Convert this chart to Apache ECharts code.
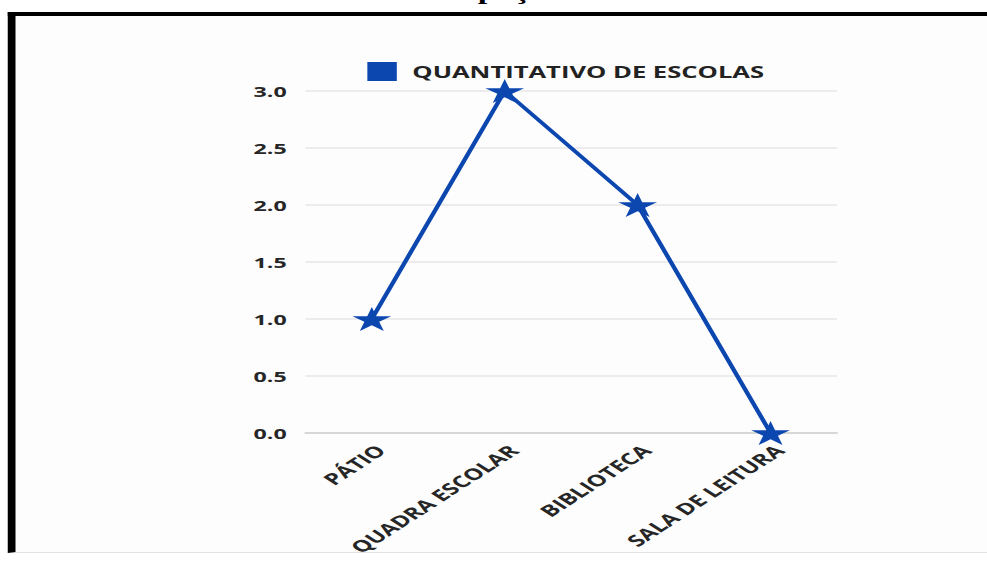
<!DOCTYPE html>
<html>
<head>
<meta charset="utf-8">
<script src="https://cdn.jsdelivr.net/npm/echarts@6/dist/echarts.min.js"></script>
<style>
  html, body { margin: 0; padding: 0; background: #ffffff; overflow: hidden; }
  body { width: 987px; height: 567px; position: relative; }
  /* The whole figure is drawn narrow and stretched horizontally */
  #wrap {
    position: absolute; left: 0; top: 0;
    width: 637px; height: 567px;
    transform: scaleX(1.55); transform-origin: 0 0;
  }
  #frame {
    position: absolute; left: 4.5px; top: 11.5px; right: -60px; bottom: 14px;
    border-left: 5px solid #000; border-top: 4px solid #000;
    border-bottom: 1px solid #e2e2e2;
    background: #fdfdfd;
  }
  #chart { position: absolute; left: 0; top: 0; width: 637px; height: 567px; }
</style>
</head>
<body>
<div id="wrap">
  <div id="frame"></div>
  <div id="chart"></div>
</div>
<script>
// Tipos de espaço e quantidade de escolas que dispõem de cada um
const categories = ['PÁTIO', 'QUADRA ESCOLAR', 'BIBLIOTECA', 'SALA DE LEITURA'];
const escolas = [1, 3, 2, 0];
const seriesName = 'QUANTITATIVO DE ESCOLAS';
const yMin = 0, yMax = 3, yStep = 0.5;

const blue = '#0c47b0';
const labelFont = '"Open Sans", "DejaVu Sans", sans-serif';
// five-pointed star marker
const starPath = 'path://M50,0 L61.2,34.5 L97.6,34.5 L68.2,55.9 L79.4,90.5 L50,69.1 L20.6,90.5 L31.8,55.9 L2.4,34.5 L38.8,34.5 Z';

const chart = echarts.init(document.getElementById('chart'), null, { renderer: 'svg' });

chart.setOption({
  backgroundColor: 'transparent',
  animation: false,
  graphic: [{
    type: 'text',
    left: 285, top: -20,
    style: {
      text: 'Espaço',
      font: 'bold 22px "Liberation Serif", "DejaVu Serif", serif',
      fill: '#000'
    }
  }],
  legend: {
    data: [seriesName],
    left: 232, top: 57,
    icon: 'rect',
    itemWidth: 19, itemHeight: 19,
    textStyle: {
      fontFamily: labelFont, fontWeight: 'bold', fontSize: 16.5,
      color: '#222', padding: [0, 0, 0, 5]
    }
  },
  grid: { left: 197, right: 97, top: 91, bottom: 134, containLabel: false },
  xAxis: {
    type: 'category',
    data: categories,
    boundaryGap: true,
    axisTick: { show: false },
    axisLine: { show: true, lineStyle: { color: '#cfcfcf', width: 1.5 } },
    axisLabel: {
      rotate: 45, margin: 9, interval: 0,
      verticalAlign: 'top',
      fontFamily: labelFont, fontWeight: 'bold', fontSize: 16, color: '#262626'
    }
  },
  yAxis: {
    type: 'value',
    min: yMin, max: yMax, interval: yStep,
    axisLine: { show: false },
    axisTick: { show: false },
    splitLine: { lineStyle: { color: '#e6e6e6', width: 1.5 } },
    axisLabel: {
      margin: 12,
      formatter: v => v.toFixed(1),
      fontFamily: labelFont, fontWeight: 'bold', fontSize: 15, color: '#262626'
    }
  },
  series: [{
    name: seriesName,
    type: 'line',
    data: escolas,
    color: blue,
    symbol: starPath,
    symbolSize: [25, 24],
    lineStyle: { color: blue, width: 3 },
    itemStyle: { color: blue }
  }]
});
</script>
</body>
</html>
